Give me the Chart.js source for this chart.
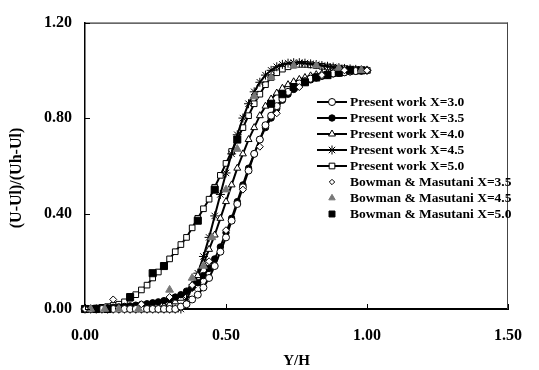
<!DOCTYPE html>
<html><head><meta charset="utf-8">
<script src="https://cdn.jsdelivr.net/npm/chart.js@4/dist/chart.umd.min.js"></script>
<style>html,body{margin:0;padding:0;background:#fff}#wrap{width:539px;height:370px}</style>
</head><body><div id="wrap"><canvas id="c" width="539" height="370"></canvas></div>
<script>
// ---- data ----
const xGrid = [0.00,0.02,0.04,0.06,0.08,0.10,0.12,0.14,0.16,0.18,0.20,0.22,0.24,0.26,0.28,0.30,0.32,0.34,0.36,0.38,0.40,0.42,0.44,0.46,0.48,0.50,0.52,0.54,0.56,0.58,0.60,0.62,0.64,0.66,0.68,0.70,0.72,0.74,0.76,0.78,0.80,0.82,0.84,0.86,0.88,0.90,0.92,0.94,0.96,0.98,1.00];
const pw30 = [0,0,0,0,0,0,0,0,0,0,0,0,0,0,0,0,0.0,0.01,0.02,0.04,0.06,0.09,0.13,0.18,0.24,0.30,0.37,0.44,0.51,0.58,0.65,0.71,0.77,0.81,0.85,0.88,0.91,0.93,0.945,0.955,0.965,0.972,0.978,0.983,0.987,0.99,0.992,0.995,0.997,0.998,1.0];
const pw35 = [0,0,0.002,0.003,0.005,0.007,0.009,0.011,0.013,0.016,0.019,0.022,0.026,0.03,0.035,0.04,0.05,0.06,0.075,0.09,0.11,0.14,0.17,0.21,0.26,0.32,0.38,0.45,0.52,0.59,0.65,0.71,0.76,0.80,0.84,0.875,0.90,0.92,0.94,0.95,0.96,0.968,0.975,0.98,0.985,0.988,0.991,0.994,0.996,0.998,1.0];
const pw40 = [0,0,0,0,0,0,0,0,0,0,0,0,0.003,0.007,0.012,0.02,0.03,0.045,0.07,0.10,0.14,0.19,0.25,0.31,0.38,0.45,0.52,0.59,0.65,0.71,0.76,0.81,0.85,0.88,0.905,0.925,0.94,0.952,0.962,0.97,0.977,0.982,0.986,0.99,0.993,0.995,0.997,0.998,0.999,1.0,1.0];
const pw45 = [0,0,0,0,0,0,0,0,0,0,0,0,0,0,0,0,0,0.0,0.04,0.09,0.15,0.22,0.30,0.39,0.48,0.57,0.65,0.73,0.80,0.86,0.91,0.95,0.98,1.0,1.015,1.025,1.03,1.032,1.032,1.03,1.027,1.024,1.02,1.017,1.014,1.011,1.008,1.006,1.004,1.002,1.0];
const pw50 = [0,0.002,0.004,0.007,0.01,0.015,0.02,0.03,0.045,0.06,0.08,0.10,0.13,0.155,0.18,0.21,0.24,0.27,0.30,0.34,0.38,0.42,0.46,0.51,0.56,0.61,0.66,0.71,0.76,0.81,0.86,0.90,0.94,0.97,0.99,1.005,1.015,1.022,1.025,1.025,1.023,1.02,1.017,1.014,1.011,1.009,1.007,1.005,1.003,1.001,1.0];
const bm35X = [0.00,0.10,0.20,0.30,0.38,0.44,0.50,0.56,0.62,0.68,0.76,0.84,0.92,1.00];
const bm35Y = [0.00,0.04,0.02,0.05,0.10,0.20,0.33,0.50,0.68,0.82,0.93,0.98,1.00,1.00];
const bm45X = [0.02,0.07,0.12,0.19,0.30,0.38,0.42,0.45,0.50,0.54,0.60,0.66,0.74,0.82,0.90,0.98];
const bm45Y = [0.00,0.00,0.00,0.00,0.08,0.13,0.18,0.30,0.50,0.67,0.89,0.97,1.02,1.02,1.01,1.00];
const bm50X = [0.00,0.04,0.08,0.16,0.24,0.28,0.40,0.46,0.54,0.66,0.70,0.74,0.78,0.82,0.86,0.90,0.94,0.98];
const bm50Y = [0.00,0.00,0.00,0.05,0.15,0.18,0.37,0.50,0.71,0.86,0.90,0.93,0.95,0.97,0.98,0.99,1.00,1.00];
const seriesLabels = ['Present work X=3.0','Present work X=3.5','Present work X=4.0','Present work X=4.5','Present work X=5.0','Bowman & Masutani X=3.5','Bowman & Masutani X=4.5','Bowman & Masutani X=5.0'];
const xTicks = [0, 0.5, 1.0, 1.5];
const yTicks = [0, 0.4, 0.8, 1.2];
const xTitle = 'Y/H';
const yTitle = '(U-Ul)/(Uh-Ul)';

// ---- build datasets ----
const pts = (xs, ys) => xs.map((x, i) => ({x: x, y: ys[i]}));
const FONT = '"Liberation Serif", "Times New Roman", serif';
function lineSet(label, ys, style, r, bg) {
  return {label, data: pts(xGrid, ys), showLine: true, borderColor: '#000', borderWidth: 2,
    pointStyle: style, pointRadius: r, pointBackgroundColor: bg, pointBorderColor: '#000', pointBorderWidth: 1,
    backgroundColor: bg, clip: false, order: 2, tension: 0};
}
function dotSet(label, xs, ys, style, r, bg, bc) {
  return {label, data: pts(xs, ys), showLine: false, pointStyle: style, pointRadius: r,
    pointBackgroundColor: bg, pointBorderColor: bc, pointBorderWidth: 1, backgroundColor: bg, borderColor: bc,
    clip: false, order: 1};
}
const datasets = [
  lineSet(seriesLabels[0], pw30, 'circle', 3.5, '#fff'),
  lineSet(seriesLabels[1], pw35, 'circle', 3.2, '#000'),
  lineSet(seriesLabels[2], pw40, 'triangle', 4, '#fff'),
  lineSet(seriesLabels[3], pw45, 'star', 4.5, '#fff'),
  lineSet(seriesLabels[4], pw50, 'rect', 4, '#fff'),
  dotSet(seriesLabels[5], bm35X, bm35Y, 'rectRot', 3.5, '#fff', '#000'),
  dotSet(seriesLabels[6], bm45X, bm45Y, 'triangle', 4.5, '#777', '#777'),
  dotSet(seriesLabels[7], bm50X, bm50Y, 'rect', 5, '#000', '#000')
];

const framePlugin = {
  id: 'frame',
  afterDatasetsDraw(chart) {
    const {ctx, chartArea: a, scales} = chart;
    ctx.save();
    ctx.strokeStyle = '#000';
    ctx.lineWidth = 1;
    ctx.beginPath(); ctx.moveTo(a.left, a.top + 0.5); ctx.lineTo(a.right, a.top + 0.5); ctx.stroke();
    ctx.strokeStyle = '#444';
    ctx.beginPath(); ctx.moveTo(a.right - 0.5, a.top); ctx.lineTo(a.right - 0.5, a.bottom); ctx.stroke();
    ctx.strokeStyle = '#000';
    scales.x.ticks.forEach(t => { const p = Math.round(scales.x.getPixelForValue(t.value)) + 0.5; ctx.beginPath(); ctx.moveTo(p, a.bottom); ctx.lineTo(p, a.bottom - 5); ctx.stroke(); });
    scales.y.ticks.forEach(t => { const p = Math.round(scales.y.getPixelForValue(t.value)) + 0.5; ctx.beginPath(); ctx.moveTo(a.left, p); ctx.lineTo(a.left + 5, p); ctx.stroke(); });
    ctx.restore();
  },
  afterDraw(chart) {
    const ctx = chart.ctx;
    // y axis title
    ctx.save();
    ctx.translate(17, 178);
    ctx.rotate(-Math.PI / 2);
    ctx.font = 'bold 16px ' + FONT;
    ctx.fillStyle = '#000';
    ctx.textAlign = 'center';
    ctx.textBaseline = 'middle';
    ctx.fillText(yTitle, 0, 0);
    ctx.restore();
    // legend
    const lx0 = 317, lx1 = 347, mx = 332, tx = 350;
    let y = 102; const dy = 16;
    ctx.save();
    ctx.font = 'bold 13.5px ' + FONT;
    ctx.textBaseline = 'middle';
    ctx.textAlign = 'left';
    chart.data.datasets.forEach(ds => {
      if (ds.showLine) {
        ctx.strokeStyle = '#000'; ctx.lineWidth = 2;
        ctx.beginPath(); ctx.moveTo(lx0, y); ctx.lineTo(lx1, y); ctx.stroke();
      }
      ctx.fillStyle = ds.pointBackgroundColor; ctx.strokeStyle = ds.pointBorderColor; ctx.lineWidth = 1;
      Chart.helpers.drawPoint(ctx, {pointStyle: ds.pointStyle, radius: ds.showLine ? ds.pointRadius : ds.pointRadius - 0.8, rotation: 0, borderWidth: 1}, mx, y);
      ctx.fillStyle = '#000';
      ctx.fillText(ds.label, tx, y + 1);
      y += dy;
    });
    ctx.restore();
  }
};

new Chart(document.getElementById('c'), {
  type: 'scatter',
  data: {datasets},
  plugins: [framePlugin],
  options: {
    responsive: false, animation: false, devicePixelRatio: 1,
    layout: {padding: {top: 21, right: 16, left: 0, bottom: 0}},
    plugins: {legend: {display: false}, tooltip: {enabled: false}},
    scales: {
      x: {
        type: 'linear', min: 0, max: 1.5,
        afterBuildTicks: s => { s.ticks = xTicks.map(v => ({value: v})); },
        afterFit: s => { s.height = 61; },
        grid: {display: false, drawTicks: false},
        border: {display: true, color: '#000', width: 2},
        ticks: {color: '#000', padding: 17, maxRotation: 0, font: {family: FONT, size: 16, weight: 'bold'}, callback: v => v.toFixed(2)},
        title: {display: true, text: xTitle, color: '#000', padding: {top: 0, bottom: 0}, font: {family: FONT, size: 15, weight: 'bold'}}
      },
      y: {
        type: 'linear', min: 0, max: 1.2,
        afterBuildTicks: s => { s.ticks = yTicks.map(v => ({value: v})); },
        afterFit: s => { s.width = 85; },
        grid: {display: false, drawTicks: false},
        border: {display: true, color: '#000', width: 1.5},
        ticks: {color: '#000', padding: 13, font: {family: FONT, size: 16, weight: 'bold'}, callback: v => v.toFixed(2)},
        title: {display: false}
      }
    }
  }
});
</script></body></html>
